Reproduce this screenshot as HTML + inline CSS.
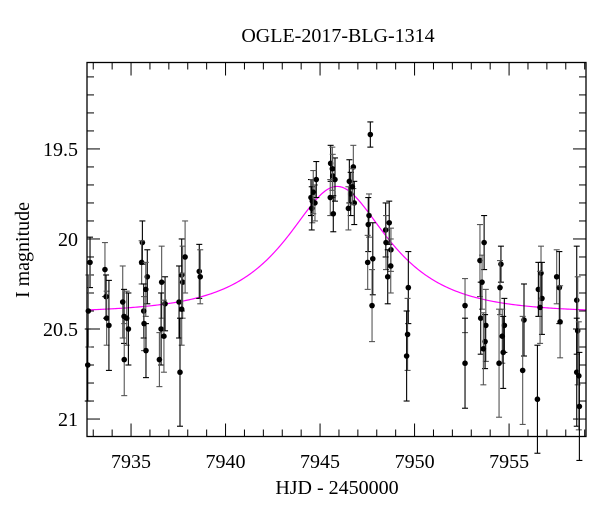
<!DOCTYPE html>
<html><head><meta charset="utf-8"><style>
body{margin:0;background:#fff;}
svg{display:block;font-family:"Liberation Serif",serif;}
</style></head><body>
<svg id="chart" width="600" height="512" viewBox="0 0 600 512">
<text x="338" y="42" text-anchor="middle" font-size="20">OGLE-2017-BLG-1314</text>
<text x="337" y="494" text-anchor="middle" font-size="20">HJD - 2450000</text>
<text transform="translate(29,250) rotate(-90)" text-anchor="middle" font-size="20">I magnitude</text>
<g id="ticks"></g><g id="model"></g><g id="points"></g>
<rect x="87" y="62.5" width="499" height="374" fill="none" stroke="#000" stroke-width="1.3"/>
</svg>
<script>
const times=[7932.83,7932.74,7932.71,7933.62,7933.68,7933.71,7933.83,7934.56,7934.63,7934.77,7934.86,7934.64,7935.60,7935.56,7935.86,7935.78,7935.67,7935.69,7935.79,7936.62,7936.59,7936.50,7936.80,7936.74,7937.68,7937.73,7937.54,7937.68,7937.59,7937.86,7938.61,7938.66,
7944.52,7944.59,7944.56,7944.73,7944.80,7944.64,7945.56,7945.67,7945.79,7945.54,7945.70,7945.65,7946.55,7946.76,7946.62,7946.50,7946.81,7946.71,7947.66,7947.59,7947.55,7947.52,7947.79,7947.75,7948.47,7948.49,7948.66,7948.75,7948.58,7948.74,7949.67,7949.63,7949.58,
7952.67,7952.67,7953.46,7953.68,7953.57,7953.50,7953.77,7953.73,7953.64,7954.57,7954.52,7954.75,7954.64,7954.69,7954.47,7955.79,7955.72,7956.55,7956.69,7956.74,7956.64,7956.50,7957.52,7957.66,7957.70,7958.58,7958.63,7958.58,7958.69,7958.72];
const mags=[20.13,20.40,20.70,20.17,20.32,20.44,20.48,20.35,20.43,20.44,20.50,20.67,20.02,20.13,20.21,20.28,20.40,20.47,20.62,20.24,20.50,20.67,20.36,20.54,20.20,20.24,20.35,20.39,20.74,20.10,20.18,20.21,
19.77,19.79,19.83,19.80,19.67,19.74,19.58,19.65,19.67,19.77,19.86,19.61,19.68,19.60,19.75,19.83,19.80,19.71,19.42,19.87,19.92,20.13,20.11,20.37,19.95,20.02,19.91,20.06,20.21,20.15,20.27,20.53,20.65,
20.37,20.69,20.12,20.02,20.24,20.44,20.48,20.57,20.61,20.14,20.27,20.48,20.54,20.63,20.69,20.45,20.73,20.28,20.19,20.33,20.38,20.89,20.21,20.27,20.46,20.34,20.51,20.74,20.76,20.93];
const errs=[0.14,0.2,0.2,0.15,0.12,0.15,0.25,0.2,0.15,0.15,0.2,0.2,0.12,0.12,0.15,0.15,0.15,0.15,0.15,0.2,0.2,0.15,0.15,0.2,0.2,0.2,0.2,0.2,0.3,0.2,0.15,0.15,
0.1,0.12,0.12,0.1,0.1,0.12,0.1,0.12,0.12,0.1,0.1,0.12,0.12,0.12,0.12,0.12,0.12,0.1,0.07,0.12,0.15,0.15,0.2,0.2,0.15,0.15,0.12,0.12,0.15,0.15,0.2,0.2,0.25,
0.15,0.25,0.2,0.15,0.15,0.2,0.2,0.15,0.2,0.1,0.15,0.15,0.15,0.2,0.3,0.2,0.3,0.15,0.15,0.2,0.2,0.3,0.15,0.2,0.2,0.3,0.3,0.3,0.3,0.3];
const xTicks=[7935,7940,7945,7950,7955];
const yTicks=[19.5,20,20.5,21];
const yTickLabels=["19.5","20","20.5","21"];
const modelT0=[7945.9], modelU0=[0.59], modelTE=[4.3], modelBase=[20.41];

const X0=87,X1=586,Y0=62.5,Y1=436.5,tMin=7932.67,tMax=7959.07,mMin=19.02,mMax=21.097;
const sx=t=>X0+(t-tMin)/(tMax-tMin)*(X1-X0);
const sy=m=>Y0+(m-mMin)/(mMax-mMin)*(Y1-Y0);
const NS="http://www.w3.org/2000/svg";
function mk(tag,attrs,parent){const e=document.createElementNS(NS,tag);for(const k in attrs)e.setAttribute(k,attrs[k]);parent.appendChild(e);return e;}
const tg=document.getElementById('ticks');
for(let d=Math.ceil(tMin);d<=tMax;d++){
  const x=sx(d),maj=d%5===0,L=maj?13:7;
  const a=mk('line',{x1:x,x2:x,y1:Y1,y2:Y1-L,stroke:'#000','stroke-width':1},tg);
  
  
  const b=mk('line',{x1:x,x2:x,y1:Y0,y2:Y0+L,stroke:'#000','stroke-width':1},tg);
  
  
}
xTicks.forEach(t=>{const e=mk('text',{x:sx(t),y:468,'text-anchor':'middle','font-size':20},tg);e.textContent=t;
  
  });
for(let i=Math.ceil(mMin*10);i<=mMax*10;i++){
  const y=sy(i/10),maj=i%5===0,L=maj?13:7;
  const a=mk('line',{x1:X0,x2:X0+L,y1:y,y2:y,stroke:'#000','stroke-width':1},tg);
  
  
  const b=mk('line',{x1:X1,x2:X1-L,y1:y,y2:y,stroke:'#000','stroke-width':1},tg);
  
  
}
yTicks.forEach((m,i)=>{const e=mk('text',{x:78,y:sy(m)+7,'text-anchor':'end','font-size':20},tg);e.textContent=yTickLabels[i];
  
  });
let d='';
for(let i=0;i<=400;i++){const t=tMin+(tMax-tMin)*i/400;const tau=(t-modelT0[0])/modelTE[0];const u2=modelU0[0]*modelU0[0]+tau*tau;
  const A=(u2+2)/Math.sqrt(u2*(u2+4));const m=modelBase[0]-2.5*Math.log10(A);d+=(i?'L':'M')+sx(t).toFixed(2)+' '+sy(m).toFixed(2);}
const mp=mk('path',{d:d,fill:'none',stroke:'#f0f','stroke-width':1.2},document.getElementById('model'));


const pg=document.getElementById('points');
times.forEach((t,i)=>{const x=sx(t),y=sy(mags[i]),yt=sy(mags[i]-errs[i]),yb=sy(mags[i]+errs[i]);const c=i%2?'#555':'#000';
  const g=mk('g',{},pg);
  
  
  mk('line',{x1:x,x2:x,y1:yt,y2:yb,stroke:c,'stroke-width':1.1},g);
  mk('line',{x1:x-3,x2:x+3,y1:yt,y2:yt,stroke:c,'stroke-width':1.1},g);
  mk('line',{x1:x-3,x2:x+3,y1:yb,y2:yb,stroke:c,'stroke-width':1.1},g);
  mk('circle',{cx:x,cy:y,r:2.8,fill:'#000'},g);
});
</script>
</body></html>
